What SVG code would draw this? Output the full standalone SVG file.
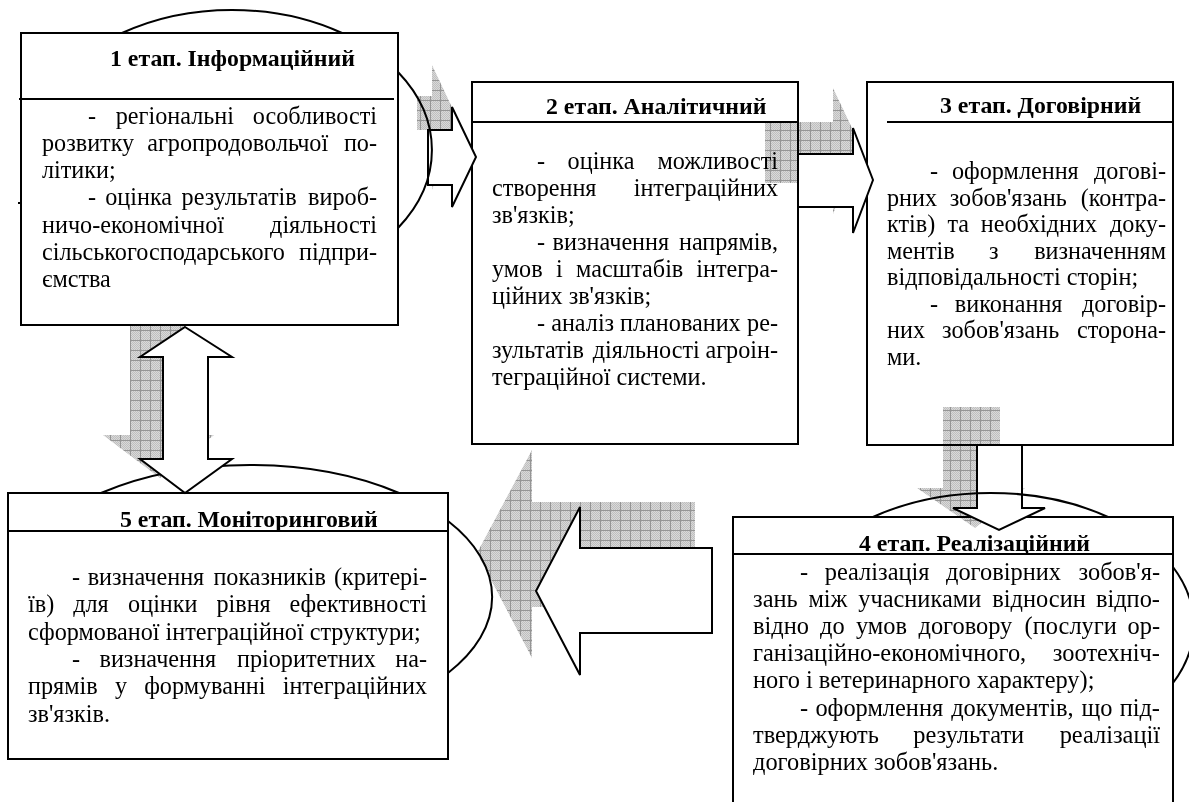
<svg xmlns="http://www.w3.org/2000/svg" width="1189" height="802" viewBox="0 0 1189 802">
  <style>
    .box { fill:#fff; stroke:#000; stroke-width:2; }
    .rule { stroke:#000; stroke-width:2; fill:none; }
    .arc { fill:none; stroke:#000; stroke-width:2; }
    .arrow { fill:#fff; stroke:#000; stroke-width:2; stroke-linejoin:miter; }
    .shadow { fill:url(#grid); stroke:none; mix-blend-mode:multiply; }
    .t { font-family:"Liberation Serif","Times New Roman",serif; font-size:24.2px; fill:#000; }
    #stage4 .t { font-size:24.4px; }
    .h { font-weight:bold; font-size:23.8px; }
    #stage4 .h { font-size:23.8px; }
    .e { text-anchor:end; }
  </style>
  <defs>
    <pattern id="dots" width="2" height="2" patternUnits="userSpaceOnUse">
      <rect width="2" height="2" fill="#d9d9d9"/>
      <rect width="1" height="1" fill="#bfbfbf"/>
      <rect x="1" y="1" width="1" height="1" fill="#bfbfbf"/>
    </pattern>
    <pattern id="grid" width="10" height="10" patternUnits="userSpaceOnUse">
      <rect width="10" height="10" fill="url(#dots)"/>
      <path d="M0 0.5H10M0.5 0V10" stroke="#959595" stroke-width="1"/>
    </pattern>
  </defs>

  <!-- Stage 1 -->
  <g id="stage1">
    <path class="arc" d="M122,33 A200,140 0 0 1 342,33"/>
    <rect class="box" x="21" y="33" width="377" height="292"/>
    <line class="rule" x1="19" y1="99" x2="394" y2="99"/>
    <line class="rule" x1="18" y1="203" x2="21" y2="203"/>
    <text class="t h" x="110" y="66">1 етап. Інформаційний</text>
    <text class="t" y="123.5"><tspan x="88">-</tspan><tspan x="115.7">регіональні</tspan><tspan class="e" x="377">особливості</tspan></text>
    <text class="t" y="150.8"><tspan x="42">розвитку</tspan><tspan x="147.2">агропродовольчої</tspan><tspan class="e" x="377">по-</tspan></text>
    <text class="t" x="42" y="178.1">літики;</text>
    <text class="t" y="205.4"><tspan x="88">-</tspan><tspan x="105.2">оцінка</tspan><tspan x="181.6">результатів</tspan><tspan class="e" x="377">вироб-</tspan></text>
    <text class="t" y="232.7"><tspan x="42">ничо-економічної</tspan><tspan class="e" x="377">діяльності</tspan></text>
    <text class="t" y="260"><tspan x="42">сільськогосподарського</tspan><tspan class="e" x="377">підпри-</tspan></text>
    <text class="t" x="42" y="287.3">ємства</text>
  </g>

  <!-- Stage 2 -->
  <g id="stage2">
    <rect class="box" x="472" y="82" width="326" height="362"/>
    <line class="rule" x1="472" y1="122" x2="798" y2="122"/>
    <text class="t h" x="546" y="114">2 етап. Аналітичний</text>
    <text class="t" y="169"><tspan x="537">-</tspan><tspan x="567.6">оцінка</tspan><tspan class="e" x="778">можливості</tspan></text>
    <text class="t" y="196"><tspan x="492">створення</tspan><tspan class="e" x="778">інтеграційних</tspan></text>
    <text class="t" x="492" y="223">зв'язків;</text>
    <text class="t" y="250"><tspan x="537">-</tspan><tspan x="552.6">визначення</tspan><tspan class="e" x="778">напрямів,</tspan></text>
    <text class="t" y="277"><tspan x="492">умов</tspan><tspan x="556.1">і</tspan><tspan x="576">масштабів</tspan><tspan class="e" x="778">інтегра-</tspan></text>
    <text class="t" x="492" y="304">ційних зв'язків;</text>
    <text class="t" y="331"><tspan x="537">-</tspan><tspan x="551.2">аналіз</tspan><tspan x="620.1">планованих</tspan><tspan class="e" x="778">ре-</tspan></text>
    <text class="t" y="358"><tspan x="492">зультатів</tspan><tspan x="592.8">діяльності</tspan><tspan class="e" x="778">агроін-</tspan></text>
    <text class="t" x="492" y="385">теграційної системи.</text>
  </g>

  <!-- Stage 3 -->
  <g id="stage3">
    <rect class="box" x="867" y="82" width="306" height="363"/>
    <line class="rule" x1="887" y1="122" x2="1173" y2="122"/>
    <text class="t h" x="940" y="113">3 етап. Договірний</text>
    <text class="t" y="179"><tspan x="930">-</tspan><tspan x="952">оформлення</tspan><tspan class="e" x="1166">догові-</tspan></text>
    <text class="t" y="205.5"><tspan x="887">рних</tspan><tspan x="949.7">зобов'язань</tspan><tspan class="e" x="1166">(контра-</tspan></text>
    <text class="t" y="232"><tspan x="887">ктів)</tspan><tspan x="947.5">та</tspan><tspan x="980.8">необхідних</tspan><tspan class="e" x="1166">доку-</tspan></text>
    <text class="t" y="258.5"><tspan x="887">ментів</tspan><tspan x="989">з</tspan><tspan class="e" x="1166">визначенням</tspan></text>
    <text class="t" x="887" y="285">відповідальності сторін;</text>
    <text class="t" y="311.5"><tspan x="930">-</tspan><tspan x="954.8">виконання</tspan><tspan class="e" x="1166">договір-</tspan></text>
    <text class="t" y="338"><tspan x="887">них</tspan><tspan x="942.1">зобов'язань</tspan><tspan class="e" x="1166">сторона-</tspan></text>
    <text class="t" x="887" y="364.5">ми.</text>
  </g>

  <!-- Stage 4 -->
  <g id="stage4">
    <path class="arc" d="M1173,567 A204,132 0 0 1 1173,683"/>
    <path class="box" d="M733,802 V517 H1173 V802"/>
    <line class="rule" x1="733" y1="554" x2="1173" y2="554"/>
    <text class="t h" x="859" y="551">4 етап. Реалізаційний</text>
    <text class="t" y="580"><tspan x="800">-</tspan><tspan x="824.7">реалізація</tspan><tspan x="946">договірних</tspan><tspan class="e" x="1160">зобов'я-</tspan></text>
    <text class="t" y="607.1"><tspan x="753">зань</tspan><tspan x="808.4">між</tspan><tspan x="858.2">учасниками</tspan><tspan x="992.3">відносин</tspan><tspan class="e" x="1160">відпо-</tspan></text>
    <text class="t" y="634.2"><tspan x="753">відно</tspan><tspan x="820.1">до</tspan><tspan x="855.9">умов</tspan><tspan x="918.5">договору</tspan><tspan x="1024.6">(послуги</tspan><tspan class="e" x="1160">ор-</tspan></text>
    <text class="t" y="661.3"><tspan x="753">ганізаційно-економічного,</tspan><tspan class="e" x="1160">зоотехніч-</tspan></text>
    <text class="t" x="753" y="688.4">ного і ветеринарного характеру);</text>
    <text class="t" y="715.5"><tspan x="800">-</tspan><tspan x="815.4">оформлення</tspan><tspan x="951.2">документів,</tspan><tspan x="1081.4">що</tspan><tspan class="e" x="1160">під-</tspan></text>
    <text class="t" y="742.6"><tspan x="753">тверджують</tspan><tspan x="913.3">результати</tspan><tspan class="e" x="1160">реалізації</tspan></text>
    <text class="t" x="753" y="769.7">договірних зобов'язань.</text>
  </g>

  <!-- Stage 5 -->
  <g id="stage5">
    <path class="arc" d="M101,493 A242,132 0 0 1 399,493"/>
    <path class="arc" d="M448,521 A242,132 0 0 1 448,673"/>
    <rect class="box" x="8" y="493" width="440" height="266"/>
    <line class="rule" x1="8" y1="531" x2="448" y2="531"/>
    <text class="t h" x="120" y="527">5 етап. Моніторинговий</text>
    <text class="t" y="585"><tspan x="72">-</tspan><tspan x="87.7">визначення</tspan><tspan x="213.4">показників</tspan><tspan class="e" x="427">(критері-</tspan></text>
    <text class="t" y="612.3"><tspan x="28">їв)</tspan><tspan x="73.2">для</tspan><tspan x="128.1">оцінки</tspan><tspan x="216.4">рівня</tspan><tspan class="e" x="427">ефективності</tspan></text>
    <text class="t" x="28" y="639.6">сформованої інтеграційної структури;</text>
    <text class="t" y="666.9"><tspan x="72">-</tspan><tspan x="99.5">визначення</tspan><tspan x="237">пріоритетних</tspan><tspan class="e" x="427">на-</tspan></text>
    <text class="t" y="694.2"><tspan x="28">прямів</tspan><tspan x="115.1">у</tspan><tspan x="144.2">формуванні</tspan><tspan class="e" x="427">інтеграційних</tspan></text>
    <text class="t" x="28" y="721.5">зв'язків.</text>
  </g>

  <!-- Block arrows with their textured shadows -->
  <g id="connectors">
    <polygon class="shadow" points="417,96 432,96 432,65 458,120 432,190 432,130 417,130"/>
    <polygon class="shadow" points="765,122 833,122 833,88 860,145 833,214 833,183 765,183"/>
    <polygon class="shadow" points="943,407 1000,407 1000,488 1025,488 975,528 917,488 943,488"/>
    <polygon class="shadow" points="695,502 532,502 532,450 477,553 532,658 532,607 695,607"/>
    <polygon class="shadow" points="130,326 183,326 185,330 185,435 214,435 160,478 103,435 130,435"/>

    <polygon id="arrow-1-2" class="arrow" points="428,130 452,130 452,107 476,157 452,207 452,185 428,185"/>
    <polygon id="arrow-2-3" class="arrow" points="798,154 853,154 853,128 873,180 853,233 853,207 798,207"/>
    <polygon id="arrow-3-4" class="arrow" points="977,445 1022,445 1022,508 1045,508 999,530 953,508 977,508"/>
    <polygon id="arrow-4-5" class="arrow" points="712,548 580,548 580,507 536,591 580,675 580,633 712,633"/>
    <polygon id="arrow-1-5" class="arrow" points="185,327 232,357 208,357 208,459 232,459 185,493 140,459 163,459 163,357 140,357"/>
  </g>

  <!-- Outline arcs that run across the arrows -->
  <g id="frames">
    <path class="arc" d="M398,72 A200,140 0 0 1 398,228"/>
    <path class="arc" d="M873,517 A204,132 0 0 1 1108,517"/>
  </g>
</svg>
